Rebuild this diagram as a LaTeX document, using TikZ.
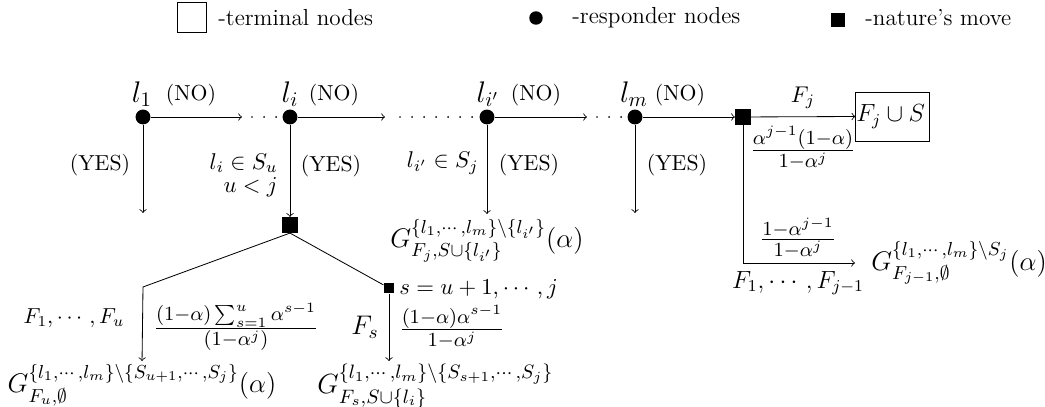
\RequirePackage{fix-cm}
\documentclass[tikz,border=0pt]{standalone}
\usepackage{amsmath,amssymb}
\begin{document}
\begin{tikzpicture}[x=0.4831pt,y=-0.4831pt,
  resp/.style={circle,fill=black,inner sep=0pt,minimum size=7.2pt},
  nat/.style={rectangle,fill=black,inner sep=0pt,minimum size=7.4pt},
  natsm/.style={rectangle,fill=black,inner sep=0pt,minimum size=5pt},
  term/.style={draw,rectangle,inner sep=0pt,minimum width=35.5pt,minimum height=23.7pt},
  lbl/.style={inner sep=0pt,font=\fontsize{10.5}{12}\selectfont},
  leg/.style={inner sep=0pt,font=\fontsize{11.2}{13}\selectfont},
  big/.style={inner sep=0pt,font=\Large},
  cond/.style={inner sep=0pt,font=\fontsize{11}{13}\selectfont},
  mlab/.style={inner sep=0pt,font=\large},
  glab/.style={inner sep=0pt,font=\fontsize{13}{15}\selectfont},
  frc/.style={inner sep=0pt,font=\fontsize{13.8}{16}\selectfont},
  conn/.style={->},
  gconn/.style={->,shorten >=2.4pt},
  gconnb/.style={->,shorten >=1.4pt},
  dotline/.style={dash pattern=on 0.01pt off 5.8pt,line cap=round,line width=0.9pt},
]
\useasboundingbox (0,0) rectangle (1045,407);
% legend
\node[draw,rectangle,inner sep=0pt,minimum width=14pt,minimum height=14.5pt] (legT) at (191.5,17) {};
\node[leg,anchor=west] (legTt) at (218,18) {-terminal nodes};
\node[resp,minimum size=6.5pt] (legR) at (536,18) {};
\node[leg,anchor=west] (legRt) at (572,18) {-responder nodes};
\node[nat,minimum size=6.8pt] (legN) at (838,20) {};
\node[leg,anchor=west] (legNt) at (865,18) {-nature's move};
% responder nodes
\node[resp] (l1) at (143,117) {};
\node[resp] (li) at (290,117) {};
\node[resp] (lip) at (487,117) {};
\node[resp] (lm) at (635,117) {};
\node[nat] (N1) at (743,117) {};
\node[nat] (N2) at (290,225) {};
\node[natsm] (N3) at (389,288) {};
\node[term] (T) at (892.5,116.5) {\makebox[35pt][l]{\large $F_j\cup S$}};
% labels of responders
\node[big] (t1) at (142,94) {$l_1$};
\node[big] (ti) at (290,94) {$l_i$};
\node[big] (tip) at (488,94) {$l_{i'}$};
\node[big] (tm) at (634,94) {$l_m$};
\node[lbl] (no1) at (191,95) {(NO)};
\node[lbl] (no2) at (334,95) {(NO)};
\node[lbl] (no3) at (536,95) {(NO)};
\node[lbl] (no4) at (680,95) {(NO)};
\node[lbl] (y1) at (100,165) {(YES)};
\node[lbl] (y2) at (331,166) {(YES)};
\node[lbl] (y3) at (529,165) {(YES)};
\node[lbl] (y4) at (677,165) {(YES)};
\node[cond,anchor=east] (c1) at (278,163) {$l_i\in S_u$};
\node[cond,anchor=east] (c2) at (278,187) {$u<j$};
\node[cond,anchor=east] (c3) at (479,163) {$l_{i'}\in S_j$};
% coordinates
\coordinate (a1) at (242,117); \coordinate (b1) at (252,117);
\coordinate (a2) at (385,117); \coordinate (b2) at (400,117);
\coordinate (a3) at (587,117); \coordinate (b3) at (597,117);
\coordinate (d1) at (143,213);
\coordinate (d4) at (635,213);
\coordinate (e1) at (855,263);
\coordinate (k1) at (143,287);
% terminal labels
\node[glab,anchor=north] (G1) at (487,219) {$G^{\{l_1,\cdots,l_m\}\setminus\{l_{i'}\}}_{F_j,S\cup\{l_{i'}\}}(\alpha)$};
\node[glab,anchor=north] (G2) at (142,364) {$G^{\{l_1,\cdots,l_m\}\setminus\{S_{u+1},\cdots,S_j\}}_{F_u,\emptyset}(\alpha)$};
\node[glab,anchor=north west,font=\fontsize{13.4}{15}\selectfont] (G3) at (317,364) {$G^{\{l_1,\cdots,l_m\}\setminus\{S_{s+1},\cdots,S_j\}}_{F_s,S\cup\{l_i\}}$};
\node[glab,anchor=west] (G4) at (871,263) {$G^{\{l_1,\cdots,l_m\}\setminus S_j}_{F_{j-1},\emptyset}(\alpha)$};
% edge labels
\node[cond] (fj) at (803,98) {$F_j$};
\node[frc] (p1) at (803,148) {$\frac{\alpha^{j-1}(1-\alpha)}{1-\alpha^j}$};
\node[frc] (p2) at (798,238) {$\frac{1-\alpha^{j-1}}{1-\alpha^j}$};
\node[mlab] (fjm) at (798,283) {$F_1,\cdots,F_{j-1}$};
\node[lbl] (fu) at (74,318) {$F_1,\cdots,F_u$};
\node[frc] (p3) at (236,327) {$\frac{(1-\alpha)\sum_{s=1}^{u}\alpha^{s-1}}{(1-\alpha^j)}$};
\node[glab] (fs) at (365,327) {$F_s$};
\node[frc] (p4) at (452,327) {$\frac{(1-\alpha)\alpha^{s-1}}{1-\alpha^j}$};
\node[cond,anchor=west] (sr) at (399,289) {$s=u+1,\cdots,j$};
% connectors
\draw[conn] (l1) -- (a1);
\draw[dotline] (b1) -- (li.west);
\draw[conn] (li) -- (a2);
\draw[dotline] (b2) -- (lip.west);
\draw[conn] (lip) -- (a3);
\draw[dotline] (b3) -- (lm.west);
\draw[conn] (lm) -- (N1.west);
\draw[conn] (N1) -- (T.west);
\draw[conn] (l1) -- (d1);
\draw[conn] (li) -- (N2.north);
\draw[gconn] (lip) -- (G1.north);
\draw[conn] (lm) -- (d4);
\draw[conn] (N1.south) |- (e1);
\draw[gconnb] (N2.south) -- (k1) -- (G2.north);
\draw (N2.south) -- (N3);
\draw[gconnb] (N3) -- (N3 |- G3.north);
\end{tikzpicture}
\end{document}
